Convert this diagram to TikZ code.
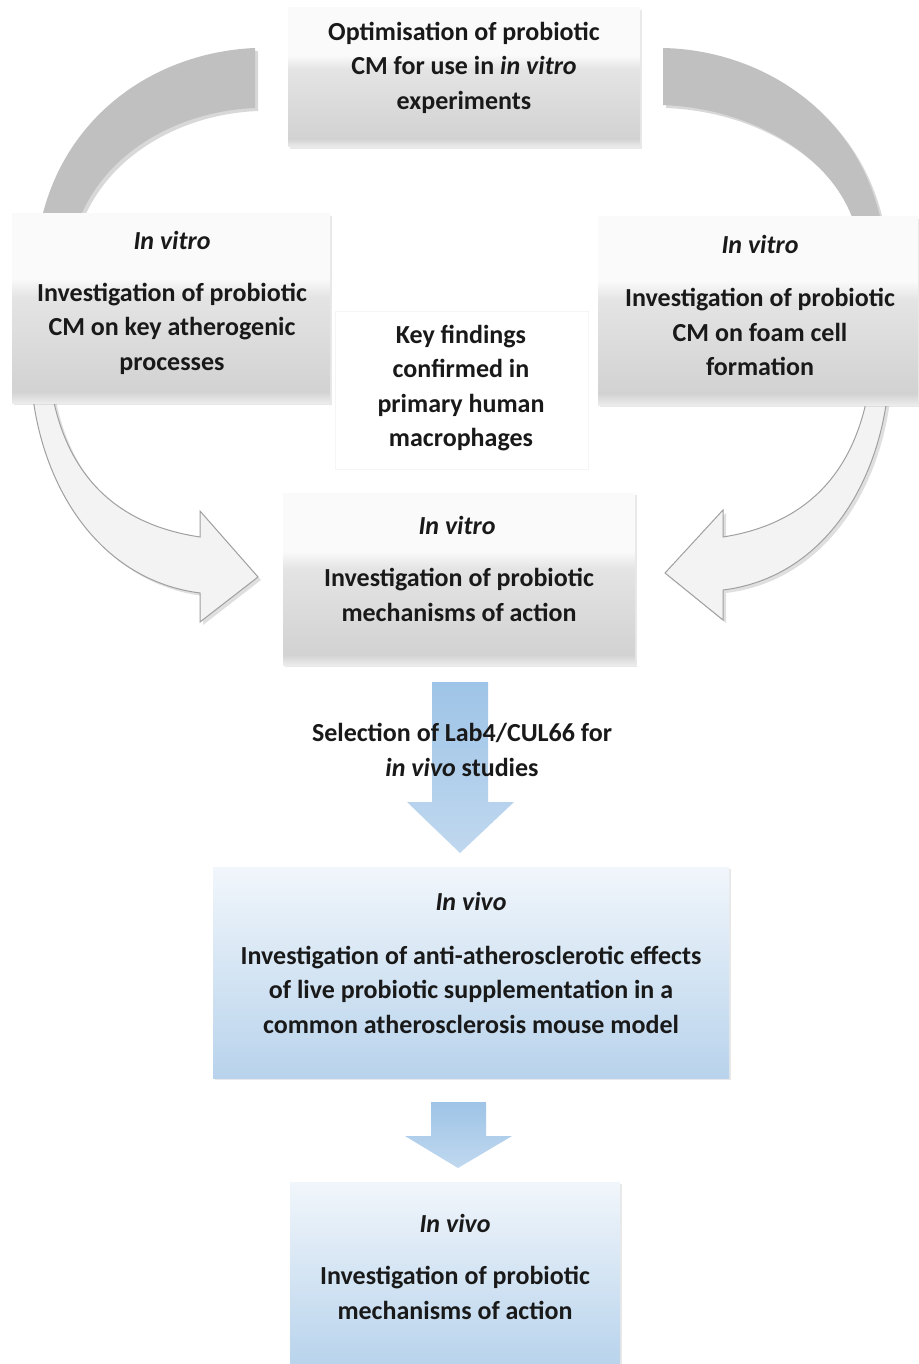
\documentclass[tikz,border=0pt]{standalone}
\usepackage{fontspec}
\setmainfont{Carlito}
\usetikzlibrary{shadows}
\definecolor{arcgray}{RGB}{192,192,192}
\definecolor{arrowfill}{RGB}{243,243,243}
\definecolor{arrowline}{RGB}{160,160,160}
\definecolor{blueA}{RGB}{158,196,231}
\definecolor{blueB}{RGB}{192,216,239}
\definecolor{bboxTop}{RGB}{241,246,251}
\definecolor{bboxBot}{RGB}{184,211,236}
\definecolor{gsA}{RGB}{236,236,236}
\definecolor{gsB}{RGB}{210,210,210}
\definecolor{gsC}{RGB}{228,228,228}
\definecolor{gsD}{RGB}{250,250,250}
\definecolor{txtcol}{RGB}{25,25,25}
\pgfdeclareverticalshading{grayshade}{100bp}{color(0bp)=(gsA); color(25bp)=(gsA); color(28bp)=(gsB); color(53bp)=(gsC); color(58bp)=(gsD); color(75bp)=(gsD); color(100bp)=(gsD)}
\begin{document}
\begin{tikzpicture}[x=0.5pt,y=-0.5pt,
  txt/.style={font=\fontsize{13pt}{17.25pt}\selectfont\bfseries, align=center, inner sep=0pt, text=txtcol},
  softshadow/.style={drop shadow={opacity=0.18, shadow xshift=1.2pt, shadow yshift=-1.2pt}},
  graybox/.style={shading=grayshade, softshadow, inner sep=0pt},
  bluebox/.style={top color=bboxTop, bottom color=bboxBot, softshadow, inner sep=0pt},
  whitebox/.style={fill=white, draw=black!4, inner sep=0pt},
  ringarc/.style={fill=arcgray, drop shadow={opacity=0.3, shadow xshift=1.5pt, shadow yshift=-1.5pt}},
  curvedarrow/.style={fill=arrowfill, draw=arrowline, line width=0.5pt, drop shadow={opacity=0.25, shadow xshift=1.5pt, shadow yshift=-1.5pt}},
  blockarrow/.style={top color=blueA, bottom color=blueB}
]
\useasboundingbox (0,0) rectangle (918,1364);
\fill[white] (0,0) rectangle (918,1364);

% upper grey arcs of the cycle
\path[ringarc] (255,48) .. controls (160,52) and (70,110) .. (43,213) -- (41,225) -- (80,225) -- (82,213) .. controls (110,150) and (180,111) .. (255,108) -- cycle;
\path[ringarc] (663,48) .. controls (760,50) and (855,110) .. (880,217) -- (882,228) -- (855,228) -- (852,217) .. controls (826,150) and (745,108) .. (663,105) -- cycle;

% lower curved arrows
\path[curvedarrow] (33,398) .. controls (45,490) and (100,580) .. (200,593) -- (200,622) -- (258,577) -- (200,511) -- (200,537) .. controls (120,525) and (70,480) .. (53,398) -- cycle;
\path[curvedarrow] (887,398) .. controls (875,490) and (820,578) .. (723,590) -- (723,620) -- (665,573) -- (723,510) -- (723,537) .. controls (800,525) and (850,480) .. (867,398) -- cycle;

% boxes
\node[graybox, minimum width=176pt, minimum height=69.5pt] (top) at (464,77.5) {};
\node[graybox, minimum width=159pt, minimum height=94.5pt] (left) at (171,308.5) {};
\node[graybox, minimum width=160pt, minimum height=94pt] (right) at (758,311) {};
\node[whitebox, minimum width=126.5pt, minimum height=79pt] (key) at (461.5,390) {};
\node[graybox, minimum width=176pt, minimum height=86pt] (mid) at (459,579) {};
\node[bluebox, minimum width=258pt, minimum height=105.5pt] (vivo1) at (471,972.5) {};
\node[bluebox, minimum width=165pt, minimum height=92pt] (vivo2) at (455,1274) {};

% blue block arrows
\path[blockarrow] (432,682) -- (488,682) -- (488,802) -- (514,802) -- (460,853) -- (407,802) -- (432,802) -- cycle;
\path[blockarrow] (431,1102) -- (486,1102) -- (486,1136) -- (512,1136) -- (458,1168) -- (405,1136) -- (431,1136) -- cycle;

% texts
\node[txt] (t-top) at (464,67.5) {Optimisation of probiotic\\CM for use in \textit{in vitro}\\experiments};
\node[txt] (h-left) at (172,240) {\textit{In vitro}};
\node[txt] (t-left) at (172,328.5) {Investigation of probiotic\\CM on key atherogenic\\processes};
\node[txt] (h-right) at (760,244) {\textit{In vitro}};
\node[txt] (t-right) at (760,332) {Investigation of probiotic\\CM on foam cell\\formation};
\node[txt] (t-key) at (461,388) {Key findings\\confirmed in\\primary human\\macrophages};
\node[txt] (h-mid) at (457,525) {\textit{In vitro}};
\node[txt] (t-mid) at (459,595) {Investigation of probiotic\\mechanisms of action};
\node[txt] (t-sel) at (462,750) {Selection of Lab4/CUL66 for\\\textit{in vivo} studies};
\node[txt] (h-vivo1) at (471,901) {\textit{In vivo}};
\node[txt] (t-vivo1) at (471,989.5) {Investigation of anti-atherosclerotic effects\\of live probiotic supplementation in a\\common atherosclerosis mouse model};
\node[txt] (h-vivo2) at (455,1223) {\textit{In vivo}};
\node[txt] (t-vivo2) at (455,1293) {Investigation of probiotic\\mechanisms of action};
\end{tikzpicture}
\end{document}
